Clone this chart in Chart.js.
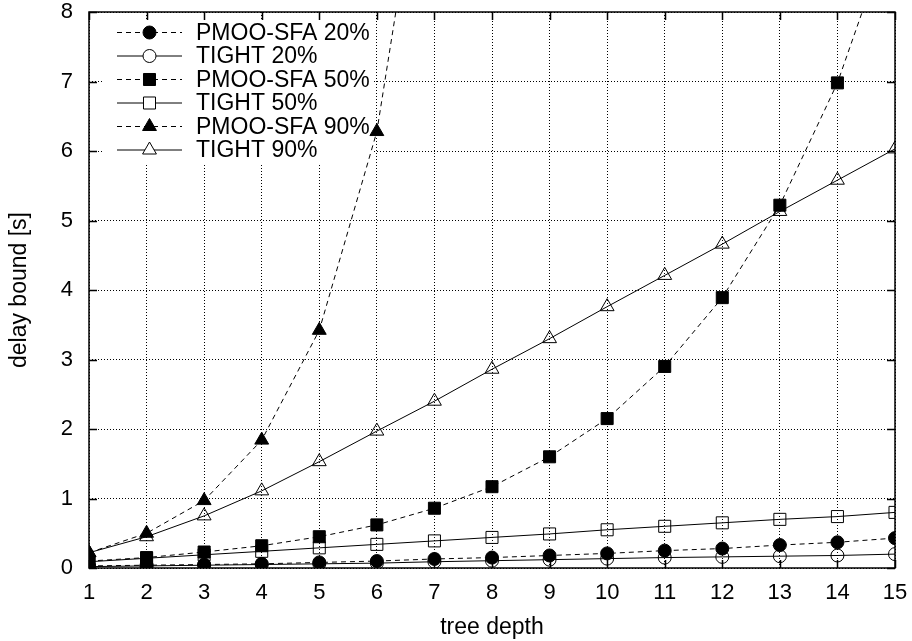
<!DOCTYPE html>
<html>
<head>
<meta charset="utf-8">
<script src="https://cdn.jsdelivr.net/npm/chart.js@4/dist/chart.umd.min.js"></script>
<style>
  html, body { margin: 0; padding: 0; background: #fff; }
  #wrap { width: 912px; height: 641px; }
</style>
</head>
<body>
<div id="wrap"><canvas id="c" width="912" height="641"></canvas></div>
<script>
// ---- data ----
const depths = [1, 2, 3, 4, 5, 6, 7, 8, 9, 10, 11, 12, 13, 14, 15];
const yTicks = [0, 1, 2, 3, 4, 5, 6, 7, 8];
const seriesNames = ["PMOO-SFA 20%", "TIGHT 20%", "PMOO-SFA 50%", "TIGHT 50%", "PMOO-SFA 90%", "TIGHT 90%"];
const pmoo20  = [0.03, 0.04, 0.05, 0.06, 0.08, 0.10, 0.13, 0.15, 0.18, 0.21, 0.25, 0.28, 0.33, 0.37, 0.43];
const tight20 = [0.02, 0.03, 0.04, 0.05, 0.06, 0.07, 0.09, 0.105, 0.12, 0.135, 0.15, 0.16, 0.17, 0.18, 0.20];
const pmoo50  = [0.10, 0.15, 0.23, 0.32, 0.45, 0.62, 0.86, 1.17, 1.60, 2.15, 2.90, 3.89, 5.22, 6.98, 9.35];
const tight50 = [0.09, 0.14, 0.19, 0.24, 0.29, 0.34, 0.39, 0.44, 0.49, 0.55, 0.60, 0.65, 0.70, 0.74, 0.80];
const pmoo90  = [0.22, 0.50, 0.97, 1.84, 3.42, 6.28, 11.5];
const tight90 = [0.22, 0.45, 0.75, 1.11, 1.53, 1.97, 2.40, 2.86, 3.30, 3.76, 4.21, 4.66, 5.13, 5.58, 6.03];

const FONT = "'Liberation Sans', Arial, Helvetica, sans-serif";
const FS_TICK = 22;
const FS_TEXT = 23;

const styles = [
  { dash: [5, 4], point: 'circle',   radius: 6.5, filled: true  },
  { dash: [],     point: 'circle',   radius: 6.5, filled: false },
  { dash: [5, 4], point: 'rect',     radius: 8.5, filled: true  },
  { dash: [],     point: 'rect',     radius: 8.5, filled: false },
  { dash: [5, 4], point: 'triangle', radius: 8,   filled: true  },
  { dash: [],     point: 'triangle', radius: 8,   filled: false }
];
const seriesValues = [pmoo20, tight20, pmoo50, tight50, pmoo90, tight90];

const datasets = seriesValues.map((vals, i) => ({
  label: seriesNames[i],
  data: vals.map((v, k) => ({ x: depths[k], y: v })),
  borderColor: '#000',
  borderWidth: 1,
  borderDash: styles[i].dash,
  pointStyle: styles[i].point,
  pointRadius: styles[i].radius,
  pointHoverRadius: styles[i].radius,
  pointBorderWidth: 1,
  pointBorderColor: '#000',
  pointBackgroundColor: styles[i].filled ? '#000' : 'rgba(0,0,0,0)',
  backgroundColor: styles[i].filled ? '#000' : 'rgba(0,0,0,0)',
  fill: false,
  tension: 0,
  order: 5 - i
}));

function drawMarker(ctx, style, r, x, y, filled) {
  ctx.save();
  ctx.setLineDash([]);
  ctx.lineWidth = 1;
  ctx.strokeStyle = '#000';
  ctx.fillStyle = filled ? '#000' : '#fff';
  ctx.beginPath();
  if (style === 'circle') {
    ctx.arc(x, y, r, 0, Math.PI * 2);
  } else if (style === 'rect') {
    const s = Math.SQRT1_2 * r;
    ctx.rect(x - s, y - s, 2 * s, 2 * s);
  } else {
    let a = 0;
    ctx.moveTo(x + Math.sin(a) * r, y - Math.cos(a) * r);
    a += 2 * Math.PI / 3;
    ctx.lineTo(x + Math.sin(a) * r, y - Math.cos(a) * r);
    a += 2 * Math.PI / 3;
    ctx.lineTo(x + Math.sin(a) * r, y - Math.cos(a) * r);
    ctx.closePath();
  }
  ctx.fill();
  ctx.stroke();
  ctx.restore();
}

const framePlugin = {
  id: 'frame',
  beforeDatasetsDraw(chart) {
    const ctx = chart.ctx;
    ctx.save();
    // opaque key box
    ctx.fillStyle = '#fff';
    ctx.fillRect(102, 20, 271, 143);
    ctx.font = FS_TEXT + 'px ' + FONT;
    ctx.textBaseline = 'middle';
    ctx.textAlign = 'left';
    for (let i = 0; i < seriesNames.length; i++) {
      const y = 32.5 + i * 23.5;
      ctx.save();
      ctx.strokeStyle = '#000';
      ctx.lineWidth = 1;
      ctx.setLineDash(styles[i].dash);
      ctx.beginPath();
      ctx.moveTo(117, y);
      ctx.lineTo(182, y);
      ctx.stroke();
      ctx.restore();
      drawMarker(ctx, styles[i].point, styles[i].radius, 149.5, y, styles[i].filled);
      ctx.fillStyle = '#000';
      ctx.fillText(seriesNames[i], 196, y + 1);
    }
    ctx.restore();
  },
  afterDatasetsDraw(chart) {
    const ctx = chart.ctx;
    const a = chart.chartArea;
    const xs = chart.scales.x, ys = chart.scales.y;
    ctx.save();
    ctx.strokeStyle = '#000';
    ctx.setLineDash([]);
    ctx.lineWidth = 1.5;
    const T = 8;
    ctx.beginPath();
    depths.forEach(d => {
      const px = Math.round(xs.getPixelForValue(d)) + 0.5;
      ctx.moveTo(px, a.bottom); ctx.lineTo(px, a.bottom - T);
      ctx.moveTo(px, a.top); ctx.lineTo(px, a.top + T);
    });
    yTicks.forEach(v => {
      const py = Math.round(ys.getPixelForValue(v)) + 0.5;
      ctx.moveTo(a.left, py); ctx.lineTo(a.left + T, py);
      ctx.moveTo(a.right, py); ctx.lineTo(a.right - T, py);
    });
    ctx.stroke();
    ctx.lineWidth = 1.5;
    ctx.strokeRect(a.left, a.top, a.right - a.left, a.bottom - a.top);
    ctx.restore();
  }
};

function zeroPad(scale) {
  scale.paddingTop = 0; scale.paddingBottom = 0;
  scale.paddingLeft = 0; scale.paddingRight = 0;
}

new Chart(document.getElementById('c'), {
  type: 'line',
  data: { datasets },
  options: {
    responsive: false,
    animation: false,
    events: [],
    layout: { padding: { top: 12, right: 17, left: 0, bottom: 0 } },
    plugins: { legend: { display: false }, tooltip: { enabled: false }, title: { display: false } },
    scales: {
      x: {
        type: 'linear',
        min: 1, max: 15,
        afterFit(s) { s.height = 73; zeroPad(s); },
        afterBuildTicks(s) { s.ticks = depths.map(v => ({ value: v })); },
        ticks: { stepSize: 1, color: '#000', padding: 12, font: { family: FONT, size: FS_TICK }, maxRotation: 0, autoSkip: false },
        grid: { color: '#000', lineWidth: 1, drawTicks: false },
        border: { display: false, dash: [1, 2] },
        title: { display: true, text: 'tree depth', color: '#000', font: { family: FONT, size: FS_TEXT }, padding: { top: 0, bottom: 0 } }
      },
      y: {
        type: 'linear',
        min: 0, max: 8,
        afterFit(s) { s.width = 89; zeroPad(s); },
        afterBuildTicks(s) { s.ticks = yTicks.map(v => ({ value: v })); },
        ticks: { stepSize: 1, color: '#000', padding: 16, font: { family: FONT, size: FS_TICK } },
        grid: { color: '#000', lineWidth: 1, drawTicks: false },
        border: { display: false, dash: [1, 2] },
        title: { display: true, text: 'delay bound [s]', color: '#000', font: { family: FONT, size: FS_TEXT }, padding: { top: 6, bottom: 0 } }
      }
    }
  },
  plugins: [framePlugin]
});
</script>
</body>
</html>
